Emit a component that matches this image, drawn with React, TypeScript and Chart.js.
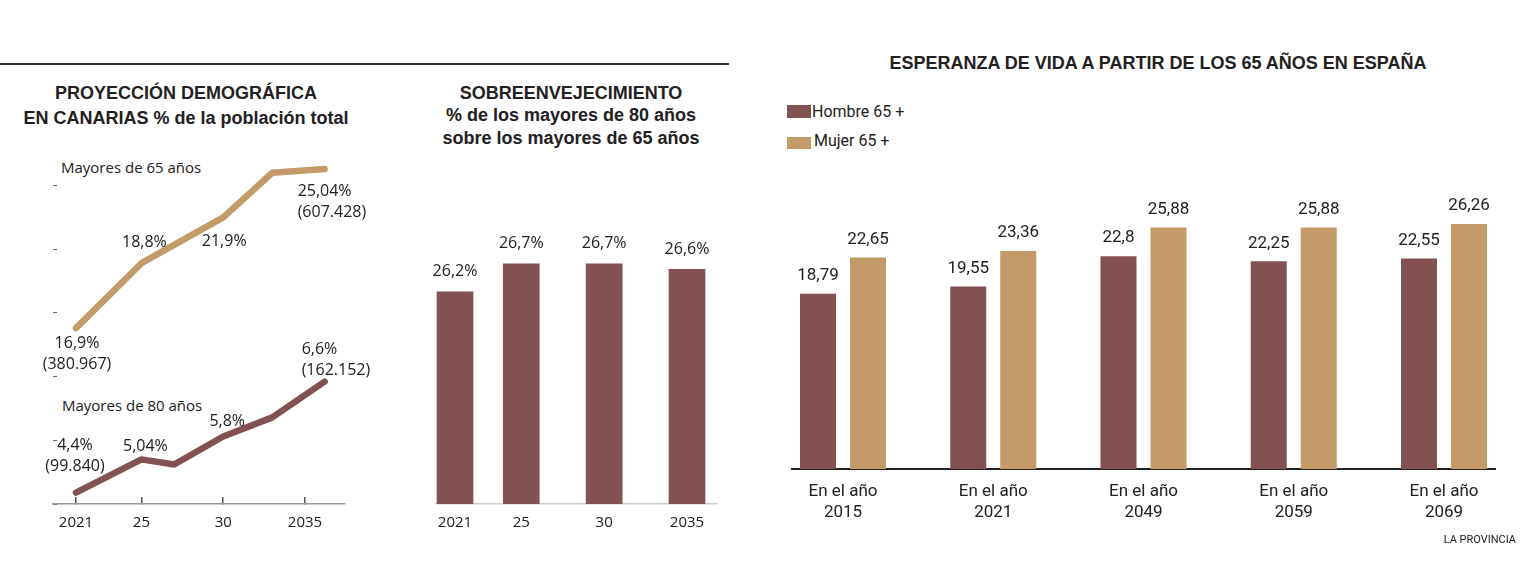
import React, { useEffect, useRef } from "react";
import { Chart, registerables } from "chart.js";

Chart.register(...registerables);

// ---------- colours & fonts ----------
const BROWN = "#845152";
const GOLD = "#C49B68";
const INK = "#222021";
const SANS = '"Open Sans", "Liberation Sans", Arial, sans-serif';
const NARROW = 'Roboto, "Liberation Sans", Arial, sans-serif';
const BOLD = '"Liberation Sans", Arial, sans-serif';

// ---------- Chart 1: Proyección demográfica ----------
const proyTickYears = [2021, 2025, 2030, 2035];
const proyTickLabels = ["2021", "25", "30", "2035"];
const mayores65Years = [2021, 2025, 2030, 2033, 2036.2];
const mayores65Plot = [13.8, 18.9, 22.5, 26.0, 26.3];
const mayores65Labels = [["16,9%", "(380.967)"], ["18,8%"], ["21,9%"], [], ["25,04%", "(607.428)"]];
const mayores80Years = [2021, 2025, 2027, 2030, 2033, 2036.2];
const mayores80Plot = [0.9, 3.5, 3.1, 5.3, 6.8, 9.6];
const mayores80Labels = [["4,4%", "(99.840)"], ["5,04%"], [], ["5,8%"], [], ["6,6%", "(162.152)"]];

// ---------- Chart 2: Sobreenvejecimiento ----------
const sobreYears = [2021, 2025, 2030, 2035];
const sobreTickLabels = ["2021", "25", "30", "2035"];
const sobreValues = [26.2, 26.7, 26.7, 26.6];

// ---------- Chart 3: Esperanza de vida ----------
const esperanzaCategories = [
  ["En el año", "2015"],
  ["En el año", "2021"],
  ["En el año", "2049"],
  ["En el año", "2059"],
  ["En el año", "2069"],
];
const hombre65 = [18.79, 19.55, 22.8, 22.25, 22.55];
const mujer65 = [22.65, 23.36, 25.88, 25.88, 26.26];

// label placement (style, relative to each point)
type Off = { dx: number; dy: number; align: CanvasTextAlign } | null;
const offsets65: Off[] = [
  { dx: 1, dy: 15, align: "center" },
  { dx: 3, dy: -21, align: "center" },
  { dx: 1, dy: 24, align: "center" },
  null,
  { dx: -27, dy: 23, align: "left" },
];
const offsets80: Off[] = [
  { dx: -1, dy: -47, align: "center" },
  { dx: 4, dy: -13, align: "center" },
  null,
  { dx: 4, dy: -15, align: "center" },
  null,
  { dx: -23, dy: -32, align: "left" },
];

const fmt = (v: number) => String(v).replace(".", ",");

function ProyeccionChart() {
  const ref = useRef<HTMLCanvasElement>(null);
  useEffect(() => {
    const labelPlugin = {
      id: "proyLabels",
      afterDatasetsDraw(chart: any) {
        const ctx = chart.ctx;
        const sets: [string[][], Off[]][] = [
          [mayores65Labels, offsets65],
          [mayores80Labels, offsets80],
        ];
        sets.forEach(([labels, offs], di) => {
          const meta = chart.getDatasetMeta(di);
          meta.data.forEach((pt: any, i: number) => {
            const lines = labels[i];
            const o = offs[i];
            if (!lines || !lines.length || !o) return;
            ctx.save();
            ctx.font = `16px ${SANS}`;
            ctx.fillStyle = INK;
            ctx.textAlign = o.align;
            ctx.textBaseline = "middle";
            lines.forEach((t, j) => ctx.fillText(t, pt.x + o.dx, pt.y + o.dy + j * 21));
            ctx.restore();
          });
        });
      },
    };
    const chart = new Chart(ref.current as HTMLCanvasElement, {
      type: "line",
      data: {
        datasets: [
          {
            label: "Mayores de 65 años",
            data: mayores65Years.map((x, i) => ({ x, y: mayores65Plot[i] })),
            borderColor: GOLD,
            borderWidth: 6.5,
            pointRadius: 0,
            borderCapStyle: "round",
            borderJoinStyle: "round",
            tension: 0,
          },
          {
            label: "Mayores de 80 años",
            data: mayores80Years.map((x, i) => ({ x, y: mayores80Plot[i] })),
            borderColor: BROWN,
            borderWidth: 6.5,
            pointRadius: 0,
            borderCapStyle: "round",
            borderJoinStyle: "round",
            tension: 0,
          },
        ],
      },
      options: {
        animation: false,
        responsive: false,
        layout: { padding: { left: 53, right: 55, top: 10, bottom: 0 } },
        plugins: { legend: { display: false }, tooltip: { enabled: false } },
        scales: {
          x: {
            type: "linear",
            min: 2019.594,
            max: 2037.445,
            afterBuildTicks: (s: any) => {
              s.ticks = proyTickYears.map((v) => ({ value: v }));
            },
            afterFit: (s: any) => {
              s.height = 46;
            },
            ticks: {
              autoSkip: false,
              maxRotation: 0,
              padding: 17,
              color: INK,
              font: { family: SANS, size: 15 },
              callback: (v: any) => proyTickLabels[proyTickYears.indexOf(Number(v))],
            },
            grid: { drawOnChartArea: false, drawTicks: true, tickLength: -7, color: "#555", lineWidth: 1.5 },
            border: { color: "#9b9b9b", width: 1.5 },
          },
          y: {
            type: "linear",
            min: 0,
            max: 27,
            afterFit: (s: any) => {
              s.width = 0;
            },
            ticks: { display: false, stepSize: 5, includeBounds: false },
            grid: { drawOnChartArea: false, tickLength: -4, color: "#666", lineWidth: 1 },
            border: { display: false },
          },
        },
      } as any,
      plugins: [labelPlugin],
    });
    return () => chart.destroy();
  }, []);
  return <canvas ref={ref} width={400} height={400} style={{ position: "absolute", left: 0, top: 150 }} />;
}

function SobreChart() {
  const ref = useRef<HTMLCanvasElement>(null);
  useEffect(() => {
    const labelPlugin = {
      id: "sobreLabels",
      afterDatasetsDraw(chart: any) {
        const ctx = chart.ctx;
        const meta = chart.getDatasetMeta(0);
        meta.data.forEach((bar: any, i: number) => {
          ctx.save();
          ctx.font = `16px ${SANS}`;
          ctx.fillStyle = INK;
          ctx.textAlign = "center";
          ctx.textBaseline = "middle";
          ctx.fillText(fmt(sobreValues[i]) + "%", bar.x, bar.y - 20);
          ctx.restore();
        });
      },
    };
    const chart = new Chart(ref.current as HTMLCanvasElement, {
      type: "bar",
      data: {
        datasets: [
          {
            label: "Sobreenvejecimiento",
            data: sobreYears.map((x, i) => ({ x, y: sobreValues[i] })),
            backgroundColor: BROWN,
            barThickness: 36,
          },
        ],
      },
      options: {
        animation: false,
        responsive: false,
        layout: { padding: { left: 36, right: 23, top: 97, bottom: 0 } },
        plugins: { legend: { display: false }, tooltip: { enabled: false } },
        scales: {
          x: {
            type: "linear",
            offset: false,
            min: 2019.853,
            max: 2036.81,
            afterBuildTicks: (s: any) => {
              s.ticks = sobreYears.map((v) => ({ value: v }));
            },
            afterFit: (s: any) => {
              s.height = 46;
            },
            ticks: {
              autoSkip: false,
              maxRotation: 0,
              padding: 10,
              color: INK,
              font: { family: SANS, size: 15 },
              callback: (v: any) => sobreTickLabels[sobreYears.indexOf(Number(v))],
            },
            grid: { display: false, drawTicks: false, offset: false },
            border: { color: "#cfcfcf", width: 1.5 },
          },
          y: { display: false, min: 22.41, max: 27, beginAtZero: false },
        },
      } as any,
      plugins: [labelPlugin],
    });
    return () => chart.destroy();
  }, []);
  return <canvas ref={ref} width={340} height={400} style={{ position: "absolute", left: 400, top: 150 }} />;
}

function EsperanzaChart() {
  const ref = useRef<HTMLCanvasElement>(null);
  useEffect(() => {
    const labelPlugin = {
      id: "espLabels",
      afterDatasetsDraw(chart: any) {
        const ctx = chart.ctx;
        [hombre65, mujer65].forEach((vals, di) => {
          const meta = chart.getDatasetMeta(di);
          meta.data.forEach((bar: any, i: number) => {
            ctx.save();
            ctx.font = `17px ${NARROW}`;
            ctx.fillStyle = INK;
            ctx.textAlign = "center";
            ctx.textBaseline = "middle";
            ctx.fillText(fmt(vals[i]), bar.x, bar.y - 18);
            ctx.restore();
          });
        });
      },
    };
    const chart = new Chart(ref.current as HTMLCanvasElement, {
      type: "bar",
      data: {
        datasets: [
          {
            label: "Hombre 65 +",
            data: hombre65.map((y, i) => ({ x: i, y })),
            backgroundColor: BROWN,
            categoryPercentage: 0.6656,
            barPercentage: 0.72,
          },
          {
            label: "Mujer 65 +",
            data: mujer65.map((y, i) => ({ x: i, y })),
            backgroundColor: GOLD,
            categoryPercentage: 0.6656,
            barPercentage: 0.72,
          },
        ],
      },
      options: {
        animation: false,
        responsive: false,
        layout: { padding: { left: 32, right: 40, top: 39, bottom: 0 } },
        plugins: { legend: { display: false }, tooltip: { enabled: false } },
        scales: {
          x: {
            type: "linear",
            offset: false,
            min: -0.3394,
            max: 4.3394,
            afterBuildTicks: (s: any) => {
              s.ticks = esperanzaCategories.map((_, i) => ({ value: i }));
            },
            afterFit: (s: any) => {
              s.height = 81;
            },
            ticks: {
              autoSkip: false,
              maxRotation: 0,
              padding: 12.5,
              color: INK,
              font: { family: NARROW, size: 17, lineHeight: 1.22 },
              callback: (v: any) => esperanzaCategories[Number(v)],
            },
            grid: { display: false, drawTicks: false, offset: false },
            border: { color: "#222", width: 2 },
          },
          y: { display: false, min: 0, max: 30 },
        },
      } as any,
      plugins: [labelPlugin],
    });
    return () => chart.destroy();
  }, []);
  return <canvas ref={ref} width={775} height={400} style={{ position: "absolute", left: 760, top: 150 }} />;
}

const abs = (s: React.CSSProperties): React.CSSProperties => ({ position: "absolute", margin: 0, ...s });

export default function App() {
  return (
    <div
      style={{
        position: "fixed",
        left: 0,
        top: 0,
        width: 1535,
        height: 583,
        background: "#fff",
        overflow: "hidden",
        color: INK,
      }}
    >
      <div style={abs({ left: 0, top: 63, width: 729, height: 2, background: "#333" })} />

      <div
        style={abs({
          left: 0,
          top: 80.5,
          width: 372,
          textAlign: "center",
          font: `700 18px/25px ${BOLD}`,
        })}
      >
        PROYECCIÓN DEMOGRÁFICA
        <br />
        EN CANARIAS % de la población total
      </div>
      <div style={abs({ left: 61, top: 157, font: `15px/20px ${SANS}`, whiteSpace: "nowrap" })}>Mayores de 65 años</div>
      <div style={abs({ left: 62, top: 395, font: `15px/20px ${SANS}`, whiteSpace: "nowrap" })}>Mayores de 80 años</div>

      <div
        style={abs({
          left: 421,
          top: 81.75,
          width: 300,
          textAlign: "center",
          font: `700 18px/22.5px ${BOLD}`,
        })}
      >
        SOBREENVEJECIMIENTO
        <br />
        % de los mayores de 80 años
        <br />
        sobre los mayores de 65 años
      </div>

      <div
        style={abs({
          left: 858,
          top: 52,
          width: 600,
          textAlign: "center",
          font: `700 18px/22px ${BOLD}`,
          whiteSpace: "nowrap",
        })}
      >
        ESPERANZA DE VIDA A PARTIR DE LOS 65 AÑOS EN ESPAÑA
      </div>

      <div style={abs({ left: 787, top: 105, width: 24, height: 13, background: BROWN })} />
      <div
        style={abs({
          left: 812,
          top: 100,
          font: `17px/22px ${NARROW}`,
          whiteSpace: "nowrap",
          transform: "scaleX(0.94)",
          transformOrigin: "left center",
        })}
      >
        Hombre 65 +
      </div>
      <div style={abs({ left: 787, top: 137, width: 24, height: 12, background: GOLD })} />
      <div
        style={abs({
          left: 814,
          top: 129,
          font: `17px/22px ${NARROW}`,
          whiteSpace: "nowrap",
          transform: "scaleX(0.94)",
          transformOrigin: "left center",
        })}
      >
        Mujer 65 +
      </div>

      <ProyeccionChart />
      <SobreChart />
      <EsperanzaChart />

      <div style={abs({ right: 19, top: 533, font: `11px/14px ${NARROW}`, whiteSpace: "nowrap" })}>LA PROVINCIA</div>
    </div>
  );
}
